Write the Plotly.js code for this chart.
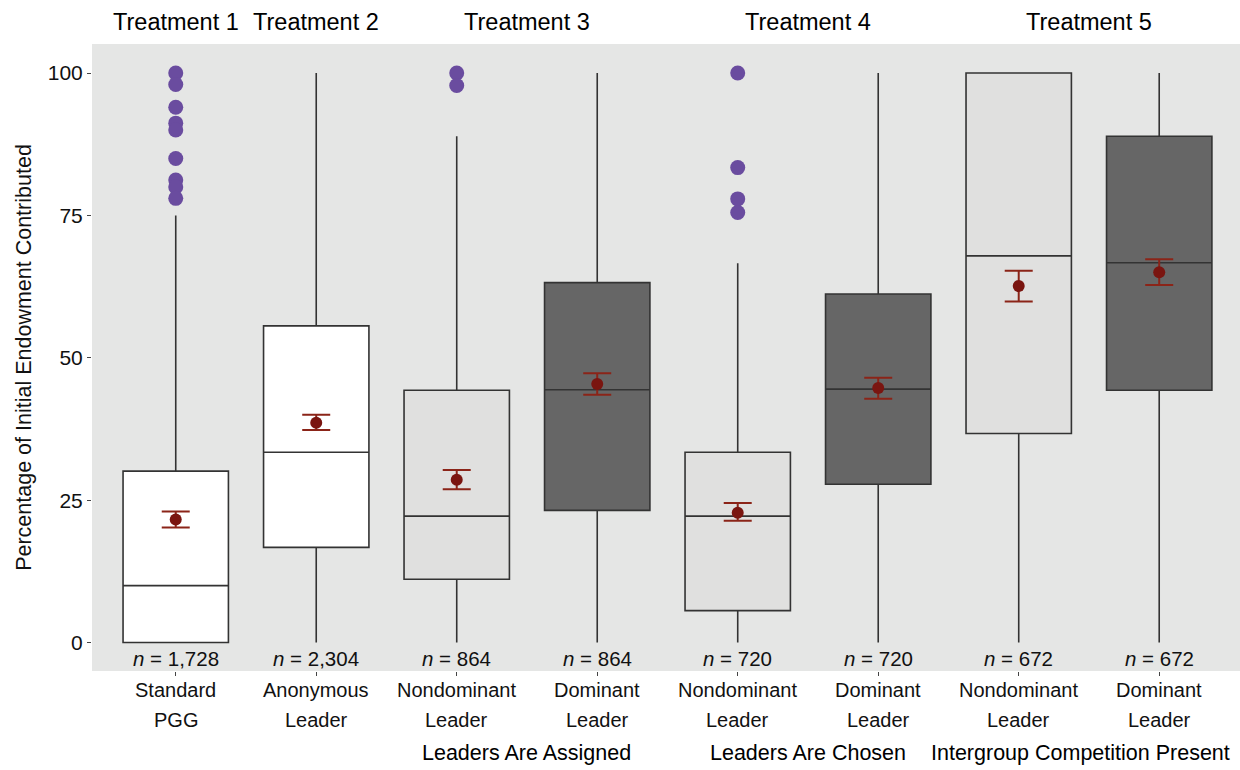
<!DOCTYPE html>
<html>
<head>
<meta charset="utf-8">
<script src="https://cdn.plot.ly/plotly-3.0.1.min.js"></script>
<style>body{margin:0;background:#fff}#chart{width:1240px;height:770px}</style>
</head>
<body>
<div id="chart"></div>
<script>
const categories = ["Standard<br>PGG","Anonymous<br>Leader","Nondominant<br>Leader","Dominant<br>Leader","Nondominant<br>Leader","Dominant<br>Leader","Nondominant<br>Leader","Dominant<br>Leader"];
const nLabels = ["1,728","2,304","864","864","720","720","672","672"];
const lowerWhisker = [0,0,0,0,0,0,0,0];
const q1 = [0,16.7,11.1,23.2,5.6,27.8,36.7,44.3];
const medians = [10,33.4,22.2,44.4,22.2,44.5,67.9,66.7];
const q3 = [30.1,55.6,44.3,63.2,33.4,61.2,100,88.9];
const upperWhisker = [75,100,88.9,100,66.6,100,100,100];
const means = [21.6,38.6,28.6,45.4,22.8,44.7,62.6,65.0];
const errUp = [1.4,1.4,1.7,1.9,1.7,1.8,2.7,2.3];
const errDown = [1.4,1.3,1.7,1.9,1.4,1.9,2.7,2.2];
const fillColors = ["#ffffff","#ffffff","#e0e0df","#666666","#e0e0df","#666666","#e0e0df","#666666"];
const outlierGroup = [0,0,0,0,0,0,0,0,0,2,2,4,4,4,4];
const outlierValues = [100,98,94,91.2,90,85,81.2,80,78,100,97.8,100,83.4,77.9,75.5];
const treatments = ["Treatment 1","Treatment 2","Treatment 3","Treatment 4","Treatment 5"];
const treatmentPos = [0,1,2.5,4.5,6.5];
const groupLabels = ["Leaders Are Assigned","Leaders Are Chosen","Intergroup Competition Present"];
const groupPos = [2.5,4.5,6.5];

const FONT = "'Liberation Sans', Arial, sans-serif";
const traces = [];
categories.forEach((c,i)=>{
  traces.push({
    type:'box', x:[i], q1:[q1[i]], median:[medians[i]], q3:[q3[i]],
    lowerfence:[lowerWhisker[i]], upperfence:[upperWhisker[i]],
    width:0.75, whiskerwidth:0, fillcolor:fillColors[i],
    line:{color:'#333333', width:1.6}, boxpoints:false, hoverinfo:'skip', showlegend:false
  });
});
traces.push({
  type:'scatter', mode:'markers', x:outlierGroup, y:outlierValues,
  marker:{color:'#6a4c9f', size:15, line:{width:0}}, showlegend:false, hoverinfo:'skip'
});
traces.push({
  type:'scatter', mode:'markers', x:categories.map((c,i)=>i), y:means,
  marker:{color:'#7a1510', size:12},
  error_y:{type:'data', symmetric:false, array:errUp, arrayminus:errDown, color:'#8b2418', thickness:2, width:14},
  showlegend:false, hoverinfo:'skip'
});

const annotations = [];
nLabels.forEach((n,i)=>{
  annotations.push({x:i, y:-2.8, xref:'x', yref:'y', text:'<i>n</i> = '+n, showarrow:false,
    font:{family:FONT, size:20.5, color:'#111'}, yanchor:'middle'});
});
categories.forEach((c,i)=>{
  const lines = c.split('<br>');
  lines.forEach((ln,j)=>{
    annotations.push({x:i, y:j===0 ? -0.0308 : -0.0787, xref:'x', yref:'paper', text:ln, showarrow:false,
      font:{family:FONT, size:20, color:'#111'}, yanchor:'middle'});
  });
});
treatments.forEach((t,i)=>{
  annotations.push({x:treatmentPos[i], y:1.0351, xref:'x', yref:'paper', text:t, showarrow:false,
    font:{family:FONT, size:23.5, color:'#000'}, yanchor:'middle'});
});
groupLabels.forEach((g,i)=>{
  annotations.push({x:groupPos[i], y:-0.1313, xref:'x', yref:'paper', text:g, showarrow:false,
    xshift: i===2 ? -8 : 0,
    font:{family:FONT, size:21.5, color:'#000'}, yanchor:'middle'});
});

const layout = {
  width:1240, height:770,
  margin:{l:92, r:0, t:44, b:99},
  paper_bgcolor:'#ffffff', plot_bgcolor:'#e5e6e5',
  font:{family:FONT, color:'#111'},
  xaxis:{range:[-0.596,7.575], tickvals:categories.map((c,i)=>i), showticklabels:false,
    showgrid:false, zeroline:false, ticks:'outside', ticklen:4, tickcolor:'#444', fixedrange:true},
  yaxis:{range:[-5,105.1], tickvals:[0,25,50,75,100], ticktext:['0','25','50','75','100'],
    showgrid:false, zeroline:false, ticks:'outside', ticklen:4, tickcolor:'#444',
    tickfont:{family:FONT, size:21, color:'#111'},
    title:{text:'Percentage of Initial Endowment Contributed', font:{family:FONT, size:21.5, color:'#111'}, standoff:10}},
  annotations:annotations,
  showlegend:false
};
Plotly.newPlot('chart', traces, layout, {displayModeBar:false, staticPlot:true});
</script>
</body>
</html>
